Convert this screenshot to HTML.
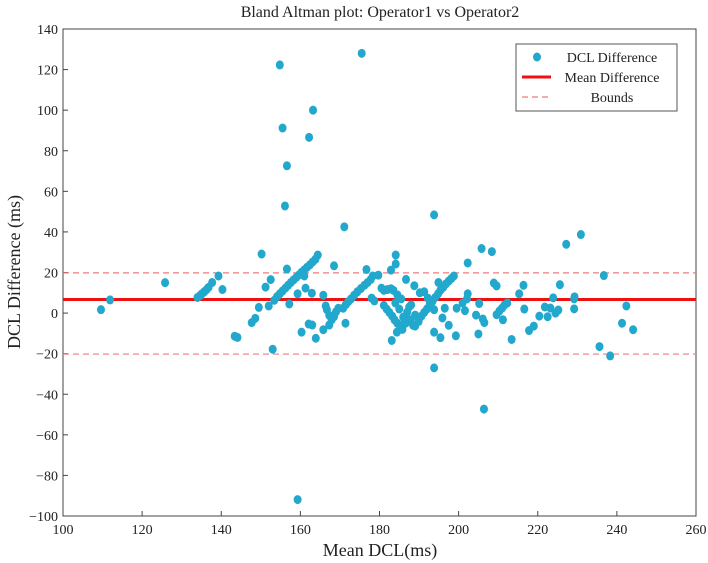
<!DOCTYPE html>
<html><head><meta charset="utf-8"><style>
html,body{margin:0;padding:0;background:#fff;}
svg{display:block;font-family:"Liberation Serif",serif;}
</style></head><body>
<svg id="chart" width="708" height="563" viewBox="0 0 708 563"></svg>
<script>
const xs = [109.6,111.9,125.8,134.0,134.6,135.1,135.7,136.3,136.8,137.7,139.3,140.3,143.4,144.1,147.7,148.6,149.5,150.2,151.2,152.0,152.5,153.0,153.4,
154.1,154.8,155.5,156.2,156.9,157.6,158.3,159.0,159.7,160.3,161.0,161.7,162.4,163.1,163.8,164.4,
156.6,157.2,154.8,155.5,156.6,156.1,159.3,159.3,160.3,161.0,161.3,162.2,162.1,163.0,162.9,163.2,163.9,
165.8,166.4,166.7,167.3,167.9,168.5,169.0,169.6,165.8,167.3,168.5,171.1,171.4,170.8,171.5,172.1,172.8,
173.6,174.4,175.3,176.2,177.0,177.8,175.5,176.7,178.3,179.7,180.5,181.1,182.0,182.9,183.5,178.0,178.7,182.9,184.1,184.1,
181.1,181.8,182.5,183.2,183.8,184.5,185.2,185.9,186.6,187.3,187.9,183.1,184.4,186.7,188.8,
184.0,185.0,186.0,187.0,188.0,189.0,185.5,186.5,187.5,188.5,184.5,185.8,
190.2,191.3,192.2,193.0,193.8,
189.0,189.9,190.6,191.3,192.0,192.7,193.4,194.1,194.8,195.4,196.1,196.8,197.5,198.2,198.8,
193.8,193.8,193.8,194.9,195.4,195.9,196.5,197.5,199.3,199.5,201.0,201.6,202.1,202.3,202.3,
204.4,205.0,205.2,205.8,206.4,206.1,206.5,208.4,208.9,209.6,209.6,210.3,211.0,211.6,212.3,211.2,213.4,
215.3,216.4,216.6,217.8,219.0,220.4,221.8,222.5,223.2,223.9,224.5,225.2,225.6,227.2,229.2,229.3,229.2,230.9,
235.6,236.7,238.3,241.3,242.4,244.1];
const ys = [1.7,6.5,15.0,7.7,8.6,9.5,10.5,11.6,12.7,15.1,18.3,11.6,-11.4,-12.0,-4.7,-2.6,2.8,29.1,12.8,3.5,16.5,-17.8,6.3,
8.1,9.5,10.9,12.3,13.7,15.1,16.4,17.6,18.9,20.1,21.3,22.6,23.8,25.2,26.5,28.6,
21.7,4.5,122.3,91.2,72.6,52.8,-91.9,9.5,-9.4,18.3,12.3,86.6,-5.4,-5.9,9.8,100.0,-12.4,
8.8,3.5,1.7,-1.1,-3.3,-1.8,0.6,2.4,-8.2,-5.9,23.3,42.5,-5.0,2.4,4.2,5.6,7.0,
8.8,10.5,12.1,13.7,15.1,16.6,128.0,21.5,18.3,18.7,12.3,11.2,11.6,12.0,11.2,7.4,6.0,21.2,28.6,24.2,
3.8,2.0,0.3,-1.5,-3.3,-5.0,-6.8,-5.9,-5.0,-4.1,-3.3,-13.5,-9.4,16.6,13.5,
5.0,2.0,-2.0,0.5,4.0,-1.0,7.0,-3.0,3.0,-6.0,9.0,-8.0,
10.0,10.5,7.4,4.7,1.7,
-6.4,-4.1,-1.5,0.3,2.0,4.2,5.9,7.7,9.5,11.2,12.7,14.4,15.8,17.1,18.3,
48.4,-27.0,-9.4,15.1,-12.1,-2.4,2.4,-6.0,-11.2,2.4,5.0,1.2,7.0,9.5,24.7,
-1.0,-10.3,4.7,31.8,-47.3,-2.9,-4.7,30.3,14.8,13.4,-0.8,1.0,2.5,4.0,5.0,-3.3,-13.0,
9.5,13.7,2.0,-8.6,-6.4,-1.5,3.0,-1.8,2.5,7.5,0.0,1.5,14.0,33.9,7.0,8.0,2.1,38.7,
-16.5,18.5,-21.1,-5.0,3.5,-8.2];
const meanDiff = 6.7;
const bounds = [19.8, -20.2];
const xTicks = [100,120,140,160,180,200,220,240,260];
const yTicks = [-100,-80,-60,-40,-20,0,20,40,60,80,100,120,140];

const L=63,R=696,T=29,B=516;
const X=v=>L+(v-100)/(160)*(R-L);
const Y=v=>T+(140-v)/240*(B-T);
const svg=document.getElementById('chart');
const NS='http://www.w3.org/2000/svg';
function mk(tag,attrs,parent){const e=document.createElementNS(NS,tag);for(const k in attrs)e.setAttribute(k,attrs[k]);(parent||svg).appendChild(e);return e;}

const title=mk('text',{x:380,y:17,'text-anchor':'middle','font-size':16,fill:'#222'});
title.textContent='Bland Altman plot: Operator1 vs Operator2';



const frame=mk('rect',{x:L,y:T,width:R-L,height:B-T,fill:'none',stroke:'#444','stroke-width':1});



xTicks.forEach(t=>{
  const tk=mk('line',{x1:X(t),x2:X(t),y1:B,y2:B-5,stroke:'#444'});
  
  
  const tx=mk('text',{x:X(t),y:B+18,'text-anchor':'middle','font-size':14,fill:'#222'});
  tx.textContent=t;
  
  
});
yTicks.forEach(t=>{
  const tk=mk('line',{x1:L,x2:L+5,y1:Y(t),y2:Y(t),stroke:'#444'});
  
  
  const tx=mk('text',{x:L-5,y:Y(t)+5,'text-anchor':'end','font-size':14,fill:'#222'});
  tx.textContent=t<0?'\u2212'+(-t):t;
  
  
});
const xt=mk('text',{x:380,y:556,'text-anchor':'middle','font-size':18,fill:'#222'});
xt.textContent='Mean DCL(ms)';


const yt=mk('text',{x:0,y:0,'text-anchor':'middle','font-size':18,fill:'#222',transform:'translate(20,272) rotate(-90)'});
yt.textContent='DCL Difference (ms)';



bounds.forEach(b=>{
  const l=mk('line',{x1:L,x2:R,y1:Y(b),y2:Y(b),stroke:'#f07b7b','stroke-width':1.2,'stroke-dasharray':'6,4'});
  
  
});
const ml=mk('line',{x1:L,x2:R,y1:Y(meanDiff),y2:Y(meanDiff),stroke:'#f01010','stroke-width':3});



xs.forEach((x,i)=>{
  const c=mk('ellipse',{cx:X(x),cy:Y(ys[i]),rx:4,ry:4.5,fill:'#22a8cc'});
  
  
});

const lg=mk('g',{});


mk('rect',{x:516,y:44,width:161,height:67,fill:'#fff',stroke:'#555','stroke-width':1},lg);
mk('ellipse',{cx:537,cy:57,rx:4,ry:4.5,fill:'#22a8cc'},lg);
mk('line',{x1:522,x2:551,y1:77,y2:77,stroke:'#f01010','stroke-width':3},lg);
mk('line',{x1:522,x2:551,y1:97,y2:97,stroke:'#f07b7b','stroke-width':1.2,'stroke-dasharray':'6,4'},lg);
[['DCL Difference',62],['Mean Difference',82],['Bounds',102]].forEach(([s,y])=>{
  const t=mk('text',{x:612,y:y,'text-anchor':'middle','font-size':14,fill:'#222'},lg);
  t.textContent=s;
  
  
});
</script>
</body></html>
